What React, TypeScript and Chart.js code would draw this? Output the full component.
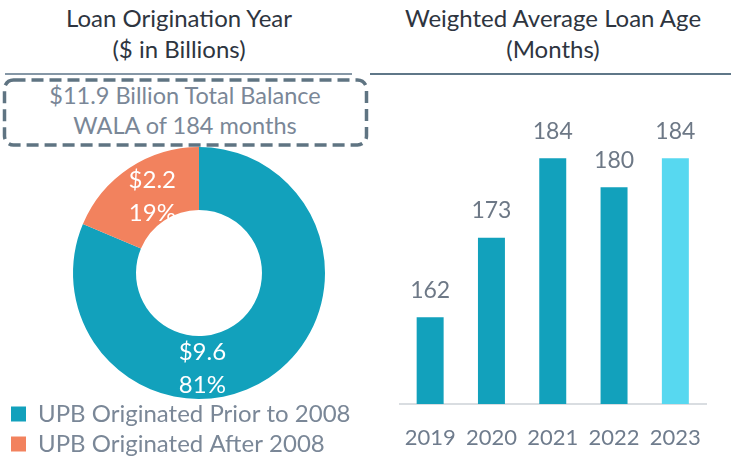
import { useEffect, useRef } from "react";
import { Chart, registerables } from "chart.js";

Chart.register(...registerables);

// ---------- data ----------
const originLabels = ["UPB Originated Prior to 2008", "UPB Originated After 2008"];
const originBalances = [9.6, 2.2]; // $ billions
const totalBalanceText = "$11.9 Billion Total Balance";
const walaSummaryText = "WALA of 184 months";
const years = ["2019", "2020", "2021", "2022", "2023"];
const walaMonths = [162, 173, 184, 180, 184];

const leftTitle = ["Loan Origination Year", "($ in Billions)"];
const rightTitle = ["Weighted Average Loan Age", "(Months)"];

// ---------- style ----------
const FONT = "Lato, 'Open Sans', sans-serif";
const TEAL = "#12a1bc";
const ORANGE = "#f2825e";
const CYAN = "#57d8f0";
const TITLE_COLOR = "#2e353f";
const GRAY_TEXT = "#7a8797";
const BAR_COLORS = [TEAL, TEAL, TEAL, TEAL, CYAN];

// label anchor per slice (angle in degrees from +x, clockwise; radius fraction of outer radius)
const sliceLabelAnchors: ({ angleDeg: number; radiusFrac: number } | null)[] = [
  { angleDeg: 88, radiusFrac: 0.76 },
  null,
];

const doughnutLabelsPlugin = {
  id: "doughnutLabels",
  afterDatasetsDraw(chart: any) {
    const ctx = chart.ctx;
    const meta = chart.getDatasetMeta(0);
    const values = chart.data.datasets[0].data as number[];
    const total = values.reduce((a, b) => a + b, 0);
    ctx.save();
    ctx.fillStyle = "#ffffff";
    ctx.font = `24px ${FONT}`;
    ctx.textAlign = "center";
    ctx.textBaseline = "middle";
    meta.data.forEach((arc: any, i: number) => {
      const p = arc.getProps(["x", "y", "startAngle", "endAngle", "innerRadius", "outerRadius"], true);
      const anchor = sliceLabelAnchors[i];
      let ang = (p.startAngle + p.endAngle) / 2;
      let r = ((p.innerRadius + p.outerRadius) / 2) * 0.97;
      if (anchor) {
        ang = (anchor.angleDeg * Math.PI) / 180;
        r = p.outerRadius * anchor.radiusFrac;
      }
      const cx = p.x + Math.cos(ang) * r + (anchor ? 0 : 4);
      const cy = p.y + Math.sin(ang) * r;
      const pct = Math.round((values[i] / total) * 100);
      ctx.fillText(`$${values[i].toFixed(1)}`, cx, cy - 16.5);
      ctx.fillText(`${pct}%`, cx, cy + 16.5);
    });
    ctx.restore();
  },
};

const legendShiftPlugin = {
  id: "legendShift",
  afterLayout(chart: any) {
    if (chart.legend) {
      chart.legend.top -= 3;
      chart.legend.bottom -= 3;
      chart.legend.left -= 3;
      chart.legend.right -= 3;
    }
  },
};

const barValuePlugin = {
  id: "barValues",
  afterDatasetsDraw(chart: any) {
    const ctx = chart.ctx;
    const meta = chart.getDatasetMeta(0);
    const values = chart.data.datasets[0].data as number[];
    ctx.save();
    ctx.fillStyle = "#6d7886";
    ctx.font = `23px ${FONT}`;
    ctx.textAlign = "center";
    ctx.textBaseline = "middle";
    meta.data.forEach((bar: any, i: number) => {
      ctx.fillText(String(values[i]), bar.x, bar.y - 27);
    });
    ctx.restore();
  },
};

function DoughnutChart() {
  const ref = useRef<HTMLCanvasElement>(null);
  useEffect(() => {
    const chart = new Chart(ref.current!, {
      type: "doughnut",
      data: {
        labels: originLabels,
        datasets: [
          {
            data: originBalances,
            backgroundColor: [TEAL, ORANGE],
            borderWidth: 0,
          },
        ],
      },
      options: {
        responsive: false,
        animation: false,
        cutout: "50%",
        layout: { padding: { left: 8, right: 8, top: 0, bottom: 0 } },
        plugins: {
          tooltip: { enabled: false },
          legend: {
            position: "bottom",
            align: "start",
            labels: {
              boxWidth: 15,
              boxHeight: 15,
              padding: 6,
              color: GRAY_TEXT,
              font: { family: FONT, size: 24 },
            },
          },
        },
      },
      plugins: [doughnutLabelsPlugin, legendShiftPlugin],
    });
    return () => chart.destroy();
  }, []);
  return (
    <canvas
      ref={ref}
      width={398}
      height={322}
      style={{ position: "absolute", left: 0, top: 147, width: 398, height: 322 }}
    />
  );
}

function BarChart() {
  const ref = useRef<HTMLCanvasElement>(null);
  useEffect(() => {
    const chart = new Chart(ref.current!, {
      type: "bar",
      data: {
        labels: years,
        datasets: [
          {
            data: walaMonths,
            backgroundColor: BAR_COLORS,
            borderWidth: 0,
            categoryPercentage: 1,
            barPercentage: 0.44,
          },
        ],
      },
      options: {
        responsive: false,
        animation: false,
        layout: { padding: { left: 9.5, right: 14, top: 15, bottom: 0 } },
        plugins: { legend: { display: false }, tooltip: { enabled: false } },
        scales: {
          x: {
            grid: { display: true, drawOnChartArea: false, drawTicks: false },
            border: { display: true, color: "#d9dde1", width: 2 },
            ticks: {
              color: "#6f7c8d",
              font: { family: FONT, size: 22, lineHeight: "68px" },
              padding: 0,
            },
            afterFit(scale: any) {
              scale.height = 52;
            },
          },
          y: {
            display: false,
            min: 150,
            max: 190,
          },
        },
      },
      plugins: [barValuePlugin],
    });
    return () => chart.destroy();
  }, []);
  return (
    <canvas
      ref={ref}
      width={330}
      height={356}
      style={{ position: "absolute", left: 390, top: 100, width: 330, height: 356 }}
    />
  );
}

export default function App() {
  const titleStyle: React.CSSProperties = {
    position: "absolute",
    top: 2,
    textAlign: "center",
    fontFamily: FONT,
    fontSize: 24,
    lineHeight: "31px",
    color: TITLE_COLOR,
    whiteSpace: "nowrap",
  };
  return (
    <div
      style={{
        position: "absolute",
        left: 0,
        top: 0,
        width: 731,
        height: 456,
        overflow: "hidden",
        background: "#ffffff",
      }}
    >
      <div style={{ ...titleStyle, left: 0, width: 358 }}>
        {leftTitle[0]}
        <br />
        {leftTitle[1]}
      </div>
      <div style={{ ...titleStyle, left: 373, width: 360 }}>
        {rightTitle[0]}
        <br />
        {rightTitle[1]}
      </div>
      <div style={{ position: "absolute", left: 5, top: 73, width: 347, height: 1.5, background: "#8597a6" }} />
      <div style={{ position: "absolute", left: 370, top: 73, width: 361, height: 1.5, background: "#5f7788" }} />
      <svg
        width={372}
        height={74}
        style={{ position: "absolute", left: 0, top: 76 }}
      >
        <rect
          x={4.5}
          y={4}
          width={362}
          height={65}
          rx={9}
          ry={9}
          fill="none"
          stroke="#5f7482"
          strokeWidth={3.5}
          strokeDasharray="12 6"
        />
      </svg>
      <div
        style={{
          position: "absolute",
          left: 0,
          width: 370,
          top: 80,
          textAlign: "center",
          fontFamily: FONT,
          fontSize: 23.5,
          lineHeight: "30px",
          color: GRAY_TEXT,
          whiteSpace: "nowrap",
        }}
      >
        {totalBalanceText}
        <br />
        {walaSummaryText}
      </div>
      <DoughnutChart />
      <BarChart />
    </div>
  );
}
